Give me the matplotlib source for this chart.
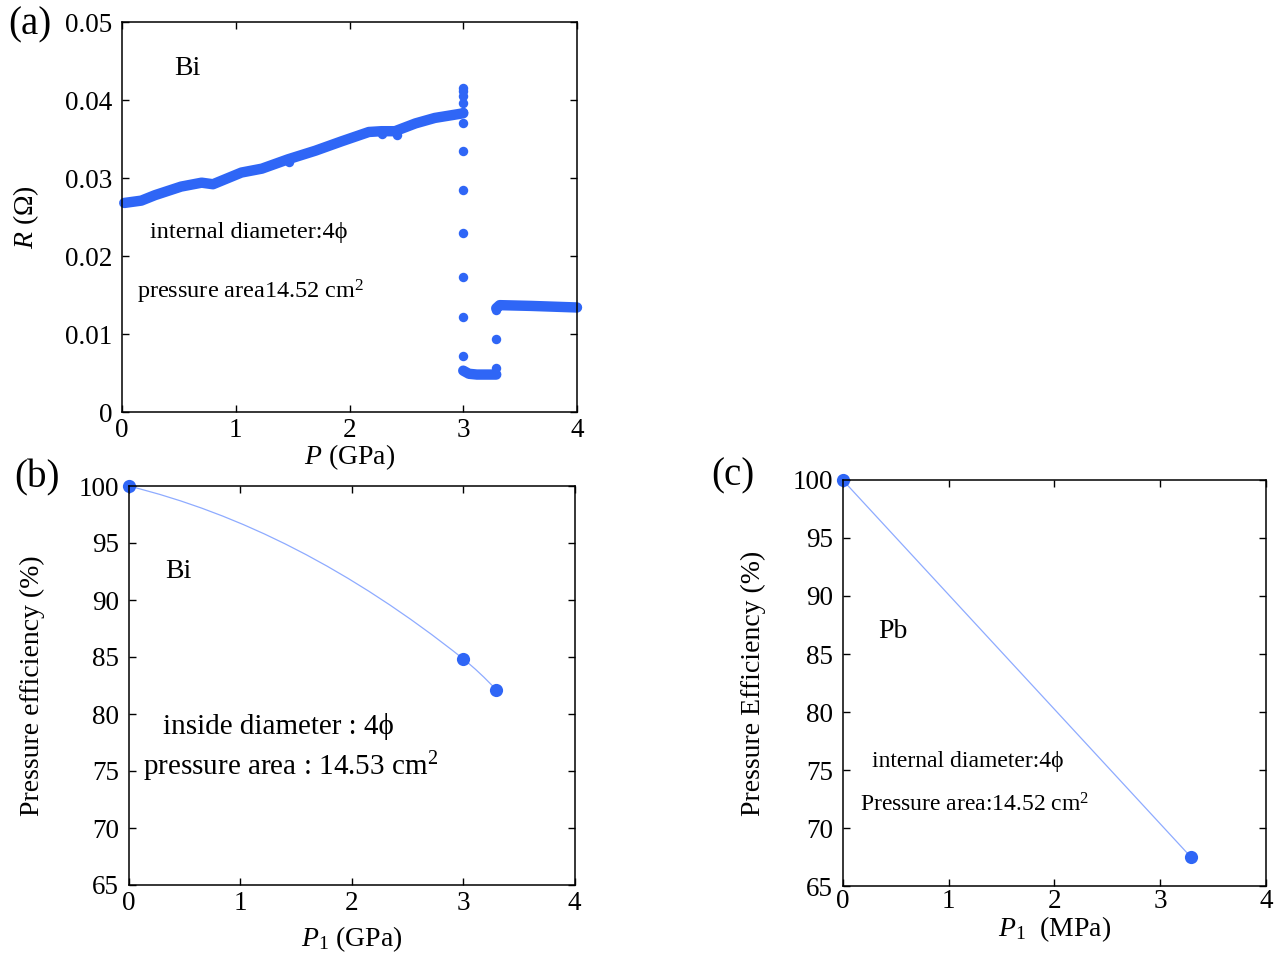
import numpy as np
import matplotlib
matplotlib.use("Agg")
import matplotlib.pyplot as plt
from matplotlib.path import Path
from matplotlib.patches import PathPatch

plt.rcParams['font.family'] = ['Liberation Serif', 'DejaVu Serif']
plt.rcParams['mathtext.fontset'] = 'custom'
plt.rcParams['mathtext.rm'] = 'Liberation Serif'
plt.rcParams['mathtext.it'] = 'Liberation Serif:italic'

# (a) Bi resistance vs pressure
bi_dense_p = [0.02, 0.17, 0.29, 0.52, 0.70, 0.80, 1.05, 1.23, 1.46, 1.70, 1.93, 2.17, 2.28, 2.40, 2.58, 2.75, 2.96, 3.00]
bi_dense_r = [0.0268, 0.0271, 0.0278, 0.0289, 0.0294, 0.0292, 0.0307, 0.0312, 0.0324, 0.0335, 0.0347, 0.0359, 0.0360, 0.0360, 0.0370, 0.0377, 0.0382, 0.0383]
bi_jump_p = [3.0, 3.0, 3.0, 3.0, 3.0, 3.0, 3.0, 3.0, 3.0, 3.0, 3.0, 3.0, 2.29, 2.42, 1.47]
bi_jump_r = [0.0416, 0.0412, 0.0405, 0.0396, 0.0384, 0.0371, 0.0334, 0.0284, 0.0229, 0.0173, 0.0122, 0.0072, 0.0356, 0.0355, 0.0321]
bi_low_p = [3.00, 3.05, 3.12, 3.29]
bi_low_r = [0.0053, 0.0049, 0.0048, 0.0048]
bi_rise_p = [3.29, 3.29, 3.29]
bi_rise_r = [0.0057, 0.0094, 0.0131]
bi_high_p = [3.29, 3.32, 3.60, 4.00]
bi_high_r = [0.0133, 0.0137, 0.0136, 0.0134]

# (b) Bi pressure efficiency
bi_eff_p = [0.0, 3.0, 3.3]
bi_eff = [100.0, 84.85, 82.1]
bi_eff_slope = [-2.4, -7.8, -10.5]   # tangents of the smoothed line

# (c) Pb pressure efficiency
pb_eff_p = [0.0, 3.29]
pb_eff = [100.0, 67.5]

x_ticks = [0, 1, 2, 3, 4]
r_ticks = [0, 0.01, 0.02, 0.03, 0.04, 0.05]
r_labels = ['0', '0.01', '0.02', '0.03', '0.04', '0.05']
eff_ticks = [65, 70, 75, 80, 85, 90, 95, 100]

blue = '#2f66f6'
light = '#8eabff'
W, H = 1277, 955
fs_tick = 19.5
fs_lab = 20

fig = plt.figure(figsize=(W / 100, H / 100), dpi=100)


def box(l, t, r, b):
    return [l / W, 1 - b / H, (r - l) / W, (b - t) / H]


def style(ax):
    for s in ax.spines.values():
        s.set_linewidth(1.1)
    ax.tick_params(direction='in', top=True, right=True, length=5, width=1,
                   labelsize=fs_tick)


# ---- (a)
ax = fig.add_axes(box(122, 22, 577, 412))
style(ax)
ax.tick_params(axis='y', pad=7)
ax.tick_params(axis='x', pad=4)
kw = dict(color=blue, lw=7.5, solid_capstyle='round', solid_joinstyle='round', clip_on=False)
ax.plot(bi_dense_p, bi_dense_r, **kw)
ax.plot(bi_low_p, bi_low_r, **kw)
ax.plot(bi_high_p, bi_high_r, **kw)
ax.plot(bi_jump_p, bi_jump_r, 'o', color=blue, ms=6.8, mew=0, clip_on=False)
ax.plot(bi_rise_p, bi_rise_r, 'o', color=blue, ms=6.8, mew=0, clip_on=False)
ax.set_xlim(0, 4)
ax.set_ylim(0, 0.05)
ax.set_xticks(x_ticks)
ax.set_yticks(r_ticks)
ax.set_yticklabels(r_labels)
ax.set_xlabel('$P$ (GPa)', fontsize=fs_lab, labelpad=0)
ax.set_ylabel('$R$ (Ω)', fontsize=fs_lab, labelpad=17)
ax.text(0.46, 0.0441, 'Bi', fontsize=20, va='center')
ax.text(0.246, 0.02295, 'internal diameter:4ϕ', fontsize=17.5, va='center')
ax.text(0.13, 0.0154, 'pressure area14.52 cm$^2$', fontsize=17.5, va='center')

# ---- (b)
ax = fig.add_axes(box(128.5, 486, 574.5, 885))
style(ax)
ax.tick_params(axis='y', pad=7)
ax.tick_params(axis='x', pad=4)
verts = [(bi_eff_p[0], bi_eff[0])]
codes = [Path.MOVETO]
for i in range(len(bi_eff_p) - 1):
    dx = (bi_eff_p[i + 1] - bi_eff_p[i]) / 3
    verts += [(bi_eff_p[i] + dx, bi_eff[i] + dx * bi_eff_slope[i]),
              (bi_eff_p[i + 1] - dx, bi_eff[i + 1] - dx * bi_eff_slope[i + 1]),
              (bi_eff_p[i + 1], bi_eff[i + 1])]
    codes += [Path.CURVE4] * 3
ax.add_patch(PathPatch(Path(verts, codes), fc='none', ec=light, lw=0.9))
ax.plot(bi_eff_p, bi_eff, 'o', color=blue, ms=9.5, mew=0, clip_on=False)
ax.set_xlim(0, 4)
ax.set_ylim(65, 100)
ax.set_xticks(x_ticks)
ax.set_yticks(eff_ticks)
ax.set_xlabel('$P_1$ (GPa)', fontsize=fs_lab, labelpad=6)
ax.set_ylabel('Pressure efficiency (%)', fontsize=fs_lab, labelpad=24)
ax.text(0.33, 92.5, 'Bi', fontsize=20, va='center')
ax.text(0.31, 78.9, 'inside diameter : 4ϕ', fontsize=21, va='center')
ax.text(0.13, 75.4, 'pressure area : 14.53 cm$^2$', fontsize=21, va='center')

# ---- (c)
ax = fig.add_axes(box(842.7, 480, 1266, 886))
style(ax)
ax.tick_params(axis='y', pad=7)
ax.tick_params(axis='x', pad=2)
ax.plot(pb_eff_p, pb_eff, '-', color=light, lw=0.9)
ax.plot(pb_eff_p, pb_eff, 'o', color=blue, ms=9.5, mew=0, clip_on=False)
ax.set_xlim(0, 4)
ax.set_ylim(65, 100)
ax.set_xticks(x_ticks)
ax.set_yticks(eff_ticks)
ax.set_xlabel('$P_1$  (MPa)', fontsize=fs_lab, labelpad=0)
ax.set_ylabel('Pressure Efficiency (%)', fontsize=fs_lab, labelpad=19)
ax.text(0.335, 86.9, 'Pb', fontsize=20, va='center')
ax.text(0.28, 75.7, 'internal diameter:4ϕ', fontsize=17, va='center')
ax.text(0.165, 72.0, 'Pressure area:14.52 cm$^2$', fontsize=17, va='center')

# panel letters
fig.text(30 / W, 1 - 25 / H, '(a)', fontsize=28, ha='center', va='center')
fig.text(37 / W, 1 - 478 / H, '(b)', fontsize=28, ha='center', va='center')
fig.text(733 / W, 1 - 476 / H, '(c)', fontsize=28, ha='center', va='center')

fig.savefig('out.png', dpi=100)
